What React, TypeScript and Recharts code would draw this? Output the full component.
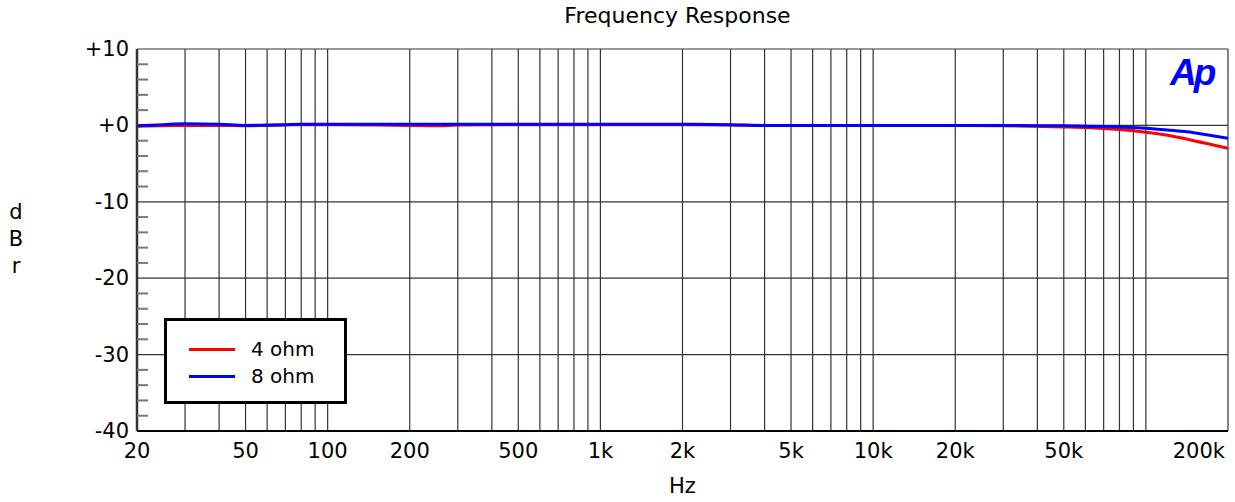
import React from 'react';
import {
  LineChart,
  Line,
  XAxis,
  YAxis,
  CartesianGrid
} from 'recharts';

// frequency points (Hz)
const freqs = [
  20, 25, 30, 40, 50, 60, 70, 80, 100, 150, 200, 250, 300, 500, 1000, 2000, 3000,
  4000, 5000, 10000, 20000, 30000, 40000, 50000, 60000, 70000, 80000, 100000,
  120000, 150000, 200000
];
// 4 ohm (dBr)
const ohm4 = [
  -0.1, -0.05, 0, 0, -0.05, 0, 0.05, 0.1, 0.1, 0.05, 0, -0.05, 0.05, 0.1, 0.1, 0.1, 0.05,
  0, 0, 0, 0, -0.05, -0.12, -0.2, -0.28, -0.4, -0.55, -0.9,
  -1.3, -2.0, -3.0
];
// 8 ohm (dBr)
const ohm8 = [
  -0.05, 0.1, 0.2, 0.15, 0, 0.05, 0.1, 0.15, 0.15, 0.15, 0.15, 0.15, 0.15, 0.15, 0.15, 0.15, 0.1,
  0, 0, 0, 0, 0, -0.05, -0.05, -0.1, -0.15, -0.22, -0.37,
  -0.6, -0.95, -1.7
];

const gridFreqs = [
  20, 30, 40, 50, 60, 70, 80, 90,
  100, 200, 300, 400, 500, 600, 700, 800, 900,
  1000, 2000, 3000, 4000, 5000, 6000, 7000, 8000, 9000,
  10000, 20000, 30000, 40000, 50000, 60000, 70000, 80000, 90000,
  100000, 200000
];
const freqLabels: Record<number, string> = {
  20: '20', 50: '50', 100: '100', 200: '200', 500: '500',
  1000: '1k', 2000: '2k', 5000: '5k', 10000: '10k', 20000: '20k',
  50000: '50k', 200000: '200k'
};
const dbTicks = [-40, -30, -20, -10, 0, 10];
const dbAllTicks = [
  -40, -38, -36, -34, -32, -30, -28, -26, -24, -22, -20, -18, -16, -14, -12,
  -10, -8, -6, -4, -2, 0, 2, 4, 6, 8, 10
];
const seriesNames = ['4 ohm', '8 ohm'];
const seriesColors = ['#ff0000', '#0000ff'];

const data = freqs.map((f, i) => ({ f, a: ohm4[i], b: ohm8[i] }));

const FONT = '"DejaVu Sans", "Liberation Sans", Arial, sans-serif';

const XTick = ({ x, y, payload }: any) => {
  const label = freqLabels[payload.value];
  if (!label) return <g />;
  const last = payload.value === 200000;
  return (
    <text
      x={last ? x - 3 : x}
      y={y}
      dy={15}
      textAnchor={last ? 'end' : 'middle'}
      fill="#000"
      fontSize={21}
      fontFamily={FONT}
    >
      {label}
    </text>
  );
};

const YTick = ({ x, y, payload }: any) => {
  const v = payload.value;
  if (v % 10 !== 0) {
    // short inward minor tick
    return <line x1={x + 8} x2={x + 19} y1={y} y2={y} stroke="#777" strokeWidth={2} />;
  }
  return (
    <text x={x} y={y} dy={7} textAnchor="end" fill="#000" fontSize={21} fontFamily={FONT}>
      {v >= 0 ? `+${v}` : `${v}`}
    </text>
  );
};

const LegendBox = () => (
  <div
    style={{
      position: 'absolute',
      left: 164,
      top: 318,
      width: 183,
      height: 86,
      boxSizing: 'border-box',
      border: '3px solid #000',
      background: '#fff',
      fontFamily: FONT,
      fontSize: 20,
      color: '#000'
    }}
  >
    {seriesNames.map((t, i) => (
      <React.Fragment key={t}>
        <div style={{ position: 'absolute', left: 22, top: 28 + i * 27 - 1.5, width: 46, height: 3, background: seriesColors[i] }} />
        <div style={{ position: 'absolute', left: 84, top: 28 + i * 27 - 12, lineHeight: '24px' }}>{t}</div>
      </React.Fragment>
    ))}
  </div>
);

export default function App() {
  return (
    <div style={{ position: 'absolute', left: 0, top: 0, width: 1235, height: 502, background: '#fff', fontFamily: FONT }}>
      <div style={{ position: 'absolute', left: 0, width: 1355, top: 3, textAlign: 'center', fontSize: 22, color: '#000' }}>
        Frequency Response
      </div>
      <LineChart
        width={1235}
        height={502}
        data={data}
        margin={{ top: 49, right: 7, bottom: 31, left: 77 }}
      >
        <CartesianGrid stroke="#333" strokeWidth={1.2} horizontalValues={dbTicks} />
        <XAxis
          dataKey="f"
          type="number"
          scale="log"
          domain={[20, 200000]}
          ticks={gridFreqs}
          interval={0}
          tick={<XTick />}
          tickLine={false}
          tickSize={0}
          tickMargin={12}
          height={40}
          axisLine={{ stroke: '#000', strokeWidth: 2 }}
          allowDataOverflow
        />
        <YAxis
          type="number"
          domain={[-40, 10]}
          ticks={dbAllTicks}
          interval={0}
          width={60}
          tick={<YTick />}
          tickLine={false}
          tickSize={0}
          tickMargin={8}
          axisLine={{ stroke: '#333', strokeWidth: 2.5 }}
        />
        <Line
          dataKey="a"
          name={seriesNames[0]}
          type="monotone"
          stroke={seriesColors[0]}
          strokeWidth={3}
          dot={false}
          isAnimationActive={false}
        />
        <Line
          dataKey="b"
          name={seriesNames[1]}
          type="monotone"
          stroke={seriesColors[1]}
          strokeWidth={3}
          dot={false}
          isAnimationActive={false}
        />
      </LineChart>
      <LegendBox />
      <div
        style={{
          position: 'absolute',
          left: 1170,
          top: 53,
          fontSize: 37,
          fontWeight: 'bold',
          fontStyle: 'italic',
          fontFamily: '"Liberation Sans", Arial, sans-serif',
          color: '#0000ff',
          letterSpacing: -3,
          lineHeight: '40px'
        }}
      >
        Ap
      </div>
      <div style={{ position: 'absolute', left: 0, width: 1365, top: 474, textAlign: 'center', fontSize: 21, color: '#000' }}>
        Hz
      </div>
      <div style={{ position: 'absolute', left: 5, width: 22, top: 199, textAlign: 'center', fontSize: 21, lineHeight: '27px', color: '#000' }}>
        <div>d</div>
        <div>B</div>
        <div>r</div>
      </div>
    </div>
  );
}
